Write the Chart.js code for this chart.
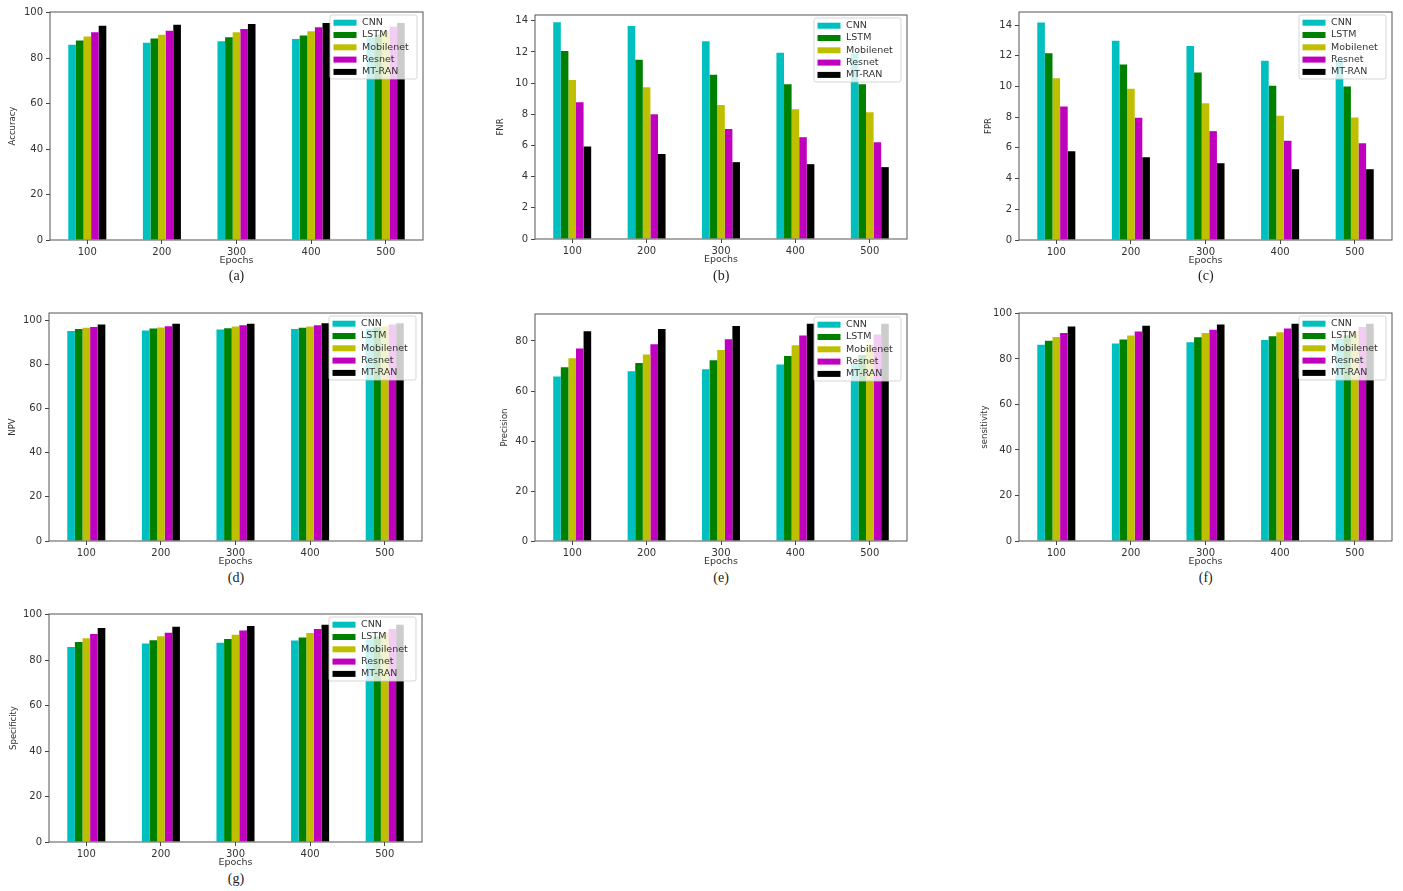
<!DOCTYPE html>
<html>
<head>
<meta charset="utf-8">
<title>Model comparison by epochs</title>
<script src="https://cdn.jsdelivr.net/npm/chart.js@4.4.1/dist/chart.umd.min.js"></script>
<style>
  body { margin: 0; background: #fff; width: 1403px; height: 891px; position: relative; overflow: hidden; }
  .panel { position: absolute; }
  .caption { position: absolute; width: 60px; text-align: center; font-family: "Liberation Serif", "DejaVu Serif", serif; font-size: 14px; line-height: 16px; color: #222; }
</style>
</head>
<body>
<script>
const epochs = ['100', '200', '300', '400', '500'];
const models = ['CNN', 'LSTM', 'Mobilenet', 'Resnet', 'MT-RAN'];
const modelColors = ['#00bfbf', '#008000', '#bfbf00', '#bf00bf', '#000000'];

// one row per model (same order as `models`), one column per epoch
const accuracy = [
    [85.9, 86.8, 87.4, 88.4, 88.9],
    [87.8, 88.6, 89.2, 90.0, 90.4],
    [89.5, 90.3, 91.4, 91.8, 92.1],
    [91.4, 92.1, 92.8, 93.6, 93.8],
    [94.3, 94.7, 95.0, 95.5, 95.5]
];
const fnr = [
    [13.9, 13.66, 12.68, 11.95, 11.9],
    [12.06, 11.5, 10.54, 9.92, 9.92],
    [10.2, 9.73, 8.6, 8.32, 8.13],
    [8.77, 8.0, 7.06, 6.53, 6.21],
    [5.93, 5.46, 4.93, 4.8, 4.61]
];
const fpr = [
    [14.17, 12.98, 12.63, 11.67, 11.7],
    [12.17, 11.43, 10.91, 10.04, 10.0],
    [10.54, 9.85, 8.91, 8.09, 7.98],
    [8.7, 7.96, 7.09, 6.46, 6.3],
    [5.78, 5.39, 5.0, 4.61, 4.61]
];
const npv = [
    [95.2, 95.5, 95.9, 96.1, 96.3],
    [96.1, 96.4, 96.5, 96.7, 96.9],
    [96.7, 96.8, 97.3, 97.3, 97.4],
    [97.1, 97.4, 97.9, 97.9, 98.2],
    [98.2, 98.5, 98.5, 98.8, 98.8]
];
const precision = [
    [65.8, 67.9, 68.7, 70.6, 71.0],
    [69.5, 71.2, 72.3, 74.0, 74.4],
    [73.1, 74.6, 76.4, 78.3, 78.6],
    [77.0, 78.7, 80.7, 82.2, 82.6],
    [83.9, 84.8, 86.0, 86.9, 86.9]
];
const sensitivity = [
    [86.2, 86.8, 87.4, 88.3, 88.8],
    [88.0, 88.6, 89.5, 90.0, 90.4],
    [89.7, 90.3, 91.4, 91.7, 92.0],
    [91.4, 92.1, 92.8, 93.4, 94.0],
    [94.3, 94.6, 95.2, 95.5, 95.5]
];
const specificity = [
    [85.8, 87.3, 87.6, 88.6, 89.0],
    [88.0, 88.7, 89.3, 90.0, 90.4],
    [89.6, 90.5, 91.2, 91.9, 92.0],
    [91.5, 92.1, 93.0, 93.7, 93.7],
    [94.1, 94.7, 95.0, 95.6, 95.6]
];

const ticksPercent = [0, 20, 40, 60, 80, 100];
const ticksRate = [0, 2, 4, 6, 8, 10, 12, 14];
const ticksPrecision = [0, 20, 40, 60, 80];

// plot box = [left, top, right, bottom] of the axes frame on the page
const panels = [
    { tag: '(a)', label: 'Accuracy',    data: accuracy,    ticks: ticksPercent,   max: 100.3, box: [50, 11.7, 423, 239.3],      titleGap: 37 },
    { tag: '(b)', label: 'FNR',         data: fnr,         ticks: ticksRate,      max: 14.37, box: [535, 15, 907.3, 239.3],     titleGap: 34 },
    { tag: '(c)', label: 'FPR',         data: fpr,         ticks: ticksRate,      max: 14.85, box: [1019.3, 11.7, 1392.3, 239.3], titleGap: 30 },
    { tag: '(d)', label: 'NPV',         data: npv,         ticks: ticksPercent,   max: 103.4, box: [49.3, 313.3, 422.7, 541.3], titleGap: 36 },
    { tag: '(e)', label: 'Precision',   data: precision,   ticks: ticksPrecision, max: 90.8,  box: [535, 314, 907.3, 541.3],    titleGap: 30 },
    { tag: '(f)', label: 'sensitivity', data: sensitivity, ticks: ticksPercent,   max: 100.2, box: [1019.3, 313.3, 1392.3, 541.3], titleGap: 34 },
    { tag: '(g)', label: 'Specificity', data: specificity, ticks: ticksPercent,   max: 100.3, box: [49.3, 614.3, 422.7, 842],   titleGap: 35 }
];

Chart.defaults.font.family = '"DejaVu Sans", sans-serif';
Chart.defaults.animation = false;

const AXIS_W = 50, PAD_TOP = 16, PAD_RIGHT = 10, AXIS_H = 29;

// frame around the axes + semi-transparent legend in the upper right corner
const insetLegend = {
    id: 'insetLegend',
    afterDatasetsDraw(chart) {
        const { ctx, chartArea: a } = chart;
        ctx.save();
        ctx.strokeStyle = '#555';
        ctx.lineWidth = 1;
        ctx.strokeRect(a.left, a.top, a.right - a.left, a.bottom - a.top);

        const w = 87, h = 64;
        const x = a.right - 6 - w, y = a.top + 3;
        ctx.fillStyle = 'rgba(255,255,255,0.8)';
        ctx.strokeStyle = 'rgba(204,204,204,0.8)';
        ctx.beginPath();
        ctx.roundRect(x, y, w, h, 2);
        ctx.fill();
        ctx.stroke();

        ctx.font = '9.5px "DejaVu Sans", sans-serif';
        ctx.textBaseline = 'middle';
        chart.data.datasets.forEach((ds, i) => {
            const cy = y + 7.7 + i * 12.3;
            ctx.fillStyle = ds.backgroundColor;
            ctx.fillRect(x + 3.5, cy - 3, 23, 6);
            ctx.fillStyle = '#333';
            ctx.fillText(ds.label, x + 32, cy);
        });
        ctx.restore();
    }
};

panels.forEach(p => {
    const [l, t, r, b] = p.box;
    const width = Math.round(r - l + AXIS_W + PAD_RIGHT);
    const height = Math.round(b - t + PAD_TOP + AXIS_H);

    const wrap = document.createElement('div');
    wrap.className = 'panel';
    wrap.style.left = (l - AXIS_W) + 'px';
    wrap.style.top = (t - PAD_TOP) + 'px';
    const canvas = document.createElement('canvas');
    canvas.width = width;
    canvas.height = height;
    canvas.style.width = width + 'px';
    canvas.style.height = height + 'px';
    wrap.appendChild(canvas);
    document.body.appendChild(wrap);

    const cap = document.createElement('div');
    cap.className = 'caption';
    cap.textContent = p.tag;
    cap.style.left = ((l + r) / 2 - 30) + 'px';
    cap.style.top = (b + 36.5 - 8) + 'px';
    document.body.appendChild(cap);

    new Chart(canvas, {
        type: 'bar',
        data: {
            labels: epochs,
            datasets: models.map((m, i) => ({
                label: m,
                data: p.data[i],
                backgroundColor: modelColors[i],
                borderWidth: 0,
                barPercentage: 1.0,
                categoryPercentage: 0.51
            }))
        },
        options: {
            responsive: false,
            devicePixelRatio: 1,
            layout: { padding: { left: 0, top: PAD_TOP, right: PAD_RIGHT, bottom: 0 } },
            plugins: {
                legend: { display: false },
                tooltip: { enabled: false }
            },
            scales: {
                x: {
                    offset: true,
                    grid: { drawOnChartArea: false, drawTicks: true, tickLength: 4, offset: false, color: '#444' },
                    border: { display: false },
                    ticks: { color: '#333', font: { size: 10 }, padding: 2 },
                    title: {
                        display: true, text: 'Epochs', color: '#333',
                        font: { size: 9.5 }, padding: { top: 0, bottom: 3 }
                    },
                    afterFit: s => { s.height = AXIS_H; }
                },
                y: {
                    min: 0,
                    max: p.max,
                    grid: { drawOnChartArea: false, drawTicks: true, tickLength: 4, color: '#444' },
                    border: { display: false },
                    ticks: { color: '#333', font: { size: 10 }, padding: 3 },
                    afterBuildTicks: s => { s.ticks = p.ticks.map(v => ({ value: v })); },
                    title: {
                        display: true, text: p.label, color: '#333',
                        font: { size: 8.5 }, padding: { top: AXIS_W - p.titleGap - 5.1, bottom: 0 }
                    },
                    afterFit: s => { s.width = AXIS_W; }
                }
            }
        },
        plugins: [insetLegend]
    });
});
</script>
</body>
</html>
